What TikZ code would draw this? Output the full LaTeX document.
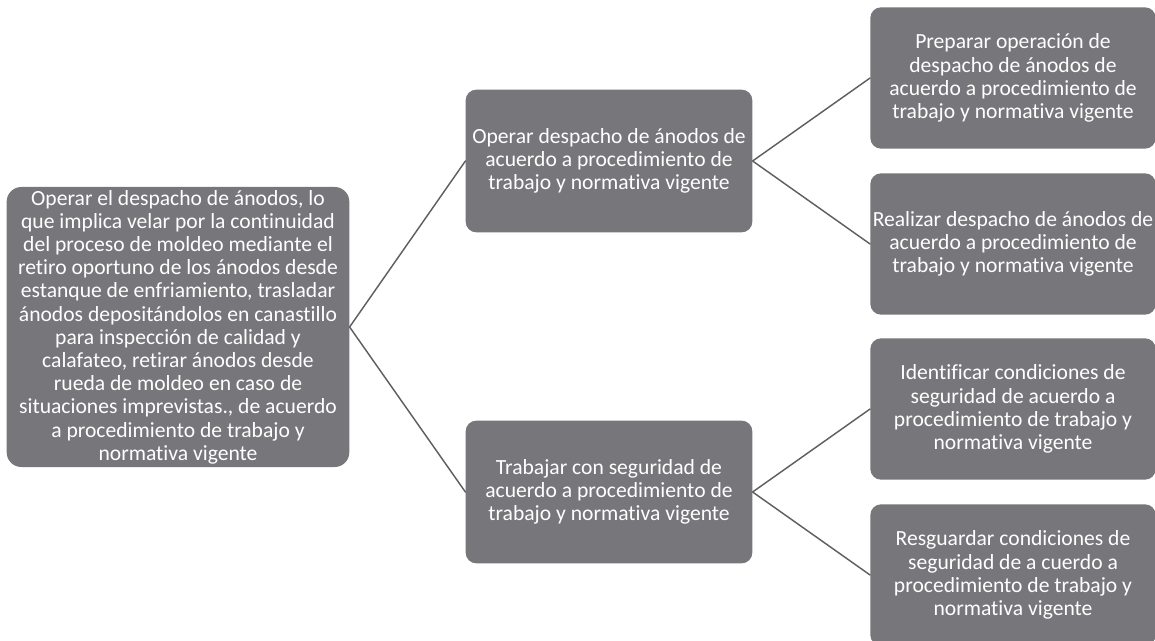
\documentclass[tikz,border=0pt]{standalone}
\usepackage{fontspec}
\setmainfont{Carlito}[Ligatures=NoCommon]
\definecolor{gris}{RGB}{119,119,123}
\definecolor{linea}{RGB}{96,96,96}
\begin{document}
\begin{tikzpicture}[x=.75pt,y=-.75pt,line join=round,line cap=round,
	font=\fontsize{16.2}{17.4}\selectfont,
	caja/.style={fill=gris,text=white,rounded corners=8pt,align=center,inner sep=0pt},
	hoja/.style={caja,minimum width=214pt,minimum height=106pt},
	rama/.style={draw=linea,line width=1.1pt}]
	\useasboundingbox (0,0) rectangle (1155,641);
	\node[caja,minimum width=257pt,minimum height=210pt,rounded corners=11pt] (root) at (178,327)
	{Operar el despacho de ánodos, lo\\ que implica velar por la continuidad\\ del proceso de moldeo mediante el\\
	retiro oportuno de los ánodos desde\\ estanque de enfriamiento, trasladar\\ ánodos depositándolos en canastillo\\
	para inspección de calidad y\\ calafateo, retirar ánodos desde\\ rueda de moldeo en caso de\\
	situaciones imprevistas., de acuerdo\\ a procedimiento de trabajo y\\ normativa vigente};
	\node[caja,minimum width=215pt,minimum height=107pt] (op) at (609,161)
	{Operar despacho de ánodos de\\ acuerdo a procedimiento de\\ trabajo y normativa vigente};
	\node[caja,minimum width=215pt,minimum height=107pt] (seg) at (609,492)
	{Trabajar con seguridad de\\ acuerdo a procedimiento de\\ trabajo y normativa vigente};
	\node[hoja] (prep) at (1013,78)
	{Preparar operación de\\ despacho de ánodos de\\ acuerdo a procedimiento de\\ trabajo y normativa vigente};
	\node[hoja] (real) at (1013,244)
	{Realizar despacho de ánodos de\\ acuerdo a procedimiento de\\ trabajo y normativa vigente};
	\node[hoja] (iden) at (1013,409)
	{Identificar condiciones de\\ seguridad de acuerdo a\\ procedimiento de trabajo y\\ normativa vigente};
	\node[hoja] (resg) at (1013,575)
	{Resguardar condiciones de\\ seguridad de a cuerdo a\\ procedimiento de trabajo y\\ normativa vigente};
	\draw[rama] (op.west)--(root.east)--(seg.west);
	\draw[rama] (prep.west)--(op.east)--(real.west);
	\draw[rama] (iden.west)--(seg.east)--(resg.west);
\end{tikzpicture}
\end{document}
